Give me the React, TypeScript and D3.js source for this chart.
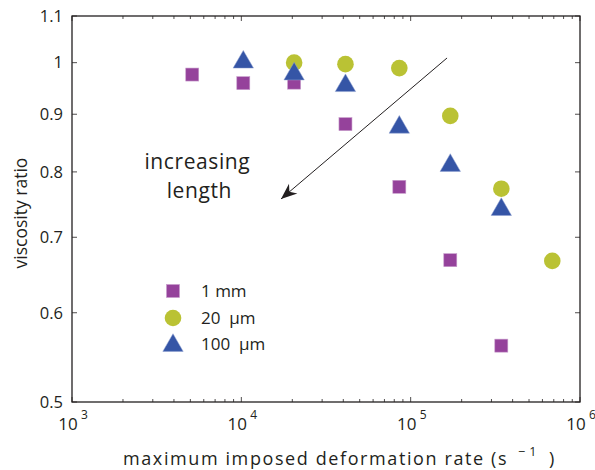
import React from "react";
import * as d3 from "d3";

const rate1mm = [5.13e3, 1.027e4, 2.05e4, 4.12e4, 8.57e4, 1.714e5, 3.43e5];
const visc1mm = [0.976, 0.959, 0.960, 0.882, 0.776, 0.668, 0.561];
const rate20um = [2.05e4, 4.12e4, 8.57e4, 1.714e5, 3.43e5, 6.86e5];
const visc20um = [1.0, 0.997, 0.989, 0.897, 0.773, 0.667];
const rate100um = [1.027e4, 2.05e4, 4.12e4, 8.57e4, 1.714e5, 3.43e5];
const visc100um = [1.004, 0.980, 0.957, 0.879, 0.813, 0.743];

const xMajor = [1e3, 1e4, 1e5, 1e6];
const xExp = ["3", "4", "5", "6"];
const yTicks = [0.5, 0.6, 0.7, 0.8, 0.9, 1, 1.1];
const yTickLabels = ["0.5", "0.6", "0.7", "0.8", "0.9", "1", "1.1"];
const legendLabels = ["1 mm", "20  \u00b5m", "100  \u00b5m"];

// annotation anchors in data coordinates
const arrowFrom = [1.64e5, 1.0096];
const arrowTo = [1.715e4, 0.757];
const annotAt = [5.5e3, 0.804];

const W = 595, H = 470;
const M = { left: 72, right: 580, top: 16, bottom: 402 };
const FONT = "'Open Sans', 'DejaVu Sans', sans-serif";
const C1 = "#95429b";
const C2 = "#bac234";
const C3 = "#3555a6";
const AX = "#231f20";

export default function App() {
  const x = d3.scaleLog().domain([1e3, 1e6]).range([M.left, M.right]);
  const y = d3.scaleLog().domain([0.5, 1.1]).range([M.bottom, M.top]);

  const minor: number[] = [];
  for (let d = 1e3; d < 1e6; d *= 10) for (let k = 2; k <= 9; k++) minor.push(d * k);

  const sq = 13;
  const circR = 8.3;
  const tri = d3.symbol().type(d3.symbolTriangle).size(180)();

  const square = (cx: number, cy: number, k: string) => (
    <rect key={k} x={cx - sq / 2} y={cy - sq / 2} width={sq} height={sq} fill={C1} stroke="#c79ccb" strokeWidth={0.6} />
  );
  const circle = (cx: number, cy: number, k: string) => (
    <circle key={k} cx={cx} cy={cy} r={circR} fill={C2} />
  );
  const triangle = (cx: number, cy: number, k: string) => (
    <path key={k} d={tri as string} transform={`translate(${cx},${cy + 1.5})`} fill={C3} stroke="#8fa0d0" strokeWidth={0.5} />
  );

  const ax0 = x(arrowFrom[0]), ay0 = y(arrowFrom[1]);
  const ax1 = x(arrowTo[0]), ay1 = y(arrowTo[1]);
  const ang = (Math.atan2(ay1 - ay0, ax1 - ax0) * 180) / Math.PI;

  const legX = 173;
  const legY = [291, 318, 344];

  return (
    <svg width={W} height={H} style={{ position: "absolute", left: 0, top: 0, background: "#fff" }} fontFamily={FONT}>
      <rect x={0} y={0} width={W} height={H} fill="#fff" />
      {/* box */}
      <rect x={M.left} y={M.top} width={M.right - M.left} height={M.bottom - M.top} fill="none" stroke={AX} strokeWidth={1.3} />
      {/* x minor ticks */}
      {minor.map((v, i) => (
        <g key={"mn" + i}>
          <line x1={x(v)} x2={x(v)} y1={M.bottom} y2={M.bottom - 3} stroke={AX} strokeWidth={0.8} />
          <line x1={x(v)} x2={x(v)} y1={M.top} y2={M.top + 3} stroke={AX} strokeWidth={0.8} />
        </g>
      ))}
      {xMajor.map((v, i) => (
        <g key={"mj" + i}>
          <line x1={x(v)} x2={x(v)} y1={M.bottom} y2={M.bottom - 5} stroke={AX} strokeWidth={0.8} />
          <line x1={x(v)} x2={x(v)} y1={M.top} y2={M.top + 5} stroke={AX} strokeWidth={0.8} />
          <text x={x(v) - 4} y={430} fontSize={17} fill={AX} textAnchor="middle">10</text>
          <text x={x(v) + 9} y={419} fontSize={12} fill={AX} textAnchor="start">{xExp[i]}</text>
        </g>
      ))}
      {yTicks.map((v, i) => (
        <g key={"yt" + i}>
          <line x1={M.left} x2={M.left + 5} y1={y(v)} y2={y(v)} stroke={AX} strokeWidth={0.8} />
          <line x1={M.right} x2={M.right - 5} y1={y(v)} y2={y(v)} stroke={AX} strokeWidth={0.8} />
          <text x={63} y={y(v)} dy="0.35em" fontSize={16.5} fill={AX} textAnchor="end">{yTickLabels[i]}</text>
        </g>
      ))}
      {/* axis labels */}
      <text x={123} y={465} fontSize={18} fill={AX} letterSpacing={1.6}>maximum imposed deformation rate (s</text>
      <text x={518} y={456} fontSize={12.5} fill={AX} letterSpacing={4}>{"\u22121"}</text>
      <text x={549} y={465} fontSize={18} fill={AX}>)</text>
      <text transform={`translate(27,${(M.top + M.bottom) / 2 + 4}) rotate(-90)`} fontSize={17.5} fill={AX} textAnchor="middle">viscosity ratio</text>

      {/* data */}
      {rate1mm.map((r, i) => square(x(r), y(visc1mm[i]), "s" + i))}
      {rate20um.map((r, i) => circle(x(r), y(visc20um[i]), "c" + i))}
      {rate100um.map((r, i) => triangle(x(r), y(visc100um[i]), "t" + i))}

      {/* annotation */}
      <line x1={ax0} y1={ay0} x2={ax1} y2={ay1} stroke={AX} strokeWidth={1} />
      <path d="M0,0 L-16,-6.5 L-11,0 L-16,6.5 Z" transform={`translate(${ax1},${ay1}) rotate(${ang})`} fill={AX} />
      <text x={x(annotAt[0])} y={y(annotAt[1])} fontSize={21} fill={AX} textAnchor="middle" letterSpacing={0.6}>
        increasing
        <tspan x={x(annotAt[0]) + 2} dy={29}>length</tspan>
      </text>

      {/* legend */}
      {square(legX, legY[0], "ls")}
      {circle(legX, legY[1], "lc")}
      {triangle(legX, legY[2], "lt")}
      {legendLabels.map((t, i) => (
        <text key={"ll" + i} x={201} y={legY[i]} dy="0.35em" fontSize={17} fill={AX} style={{ whiteSpace: "pre" }}>{t}</text>
      ))}
    </svg>
  );
}
